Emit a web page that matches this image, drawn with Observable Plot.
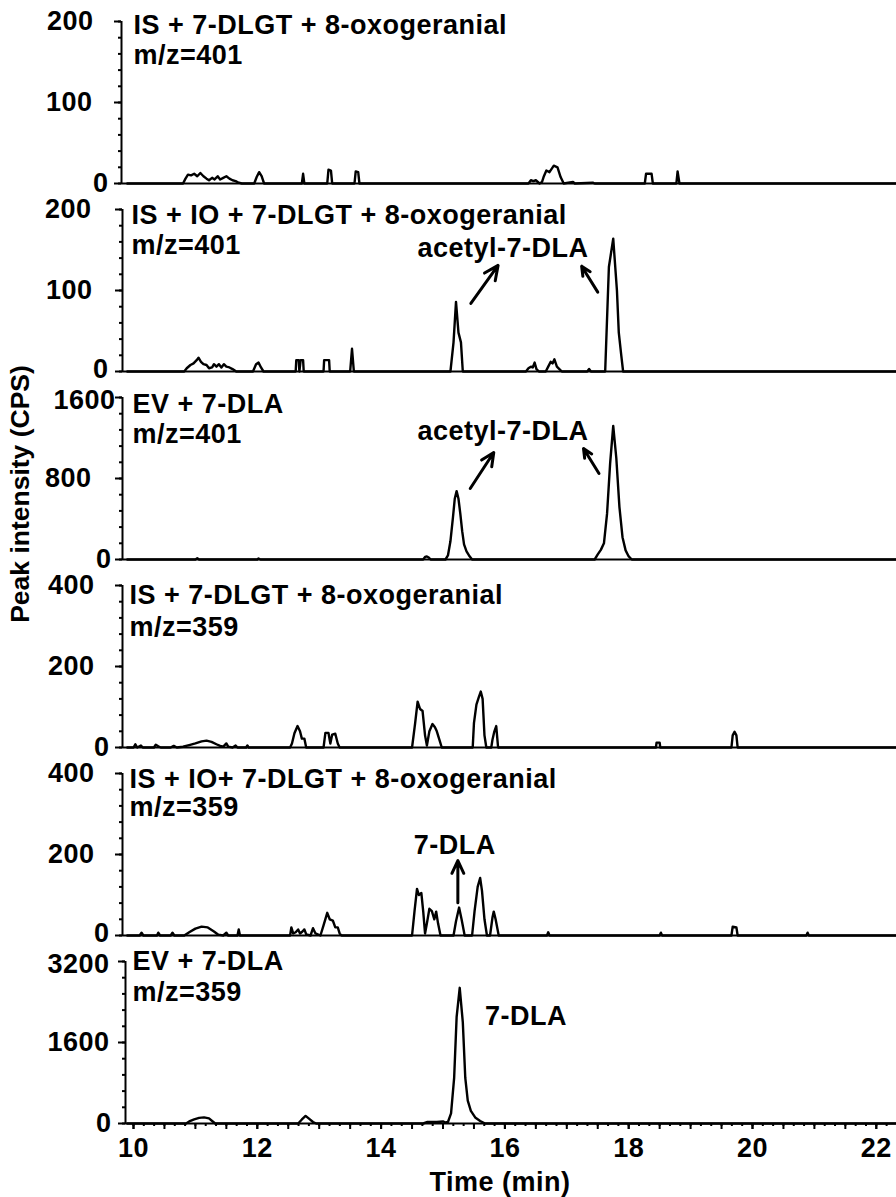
<!DOCTYPE html>
<html>
<head>
<meta charset="utf-8">
<script src="https://cdn.jsdelivr.net/npm/d3@7"></script>
<script src="https://cdn.jsdelivr.net/npm/@observablehq/plot@0.6"></script>
<style>
  body { margin: 0; background: #fff; overflow: hidden; }
  #chart { position: relative; width: 896px; height: 1197px; font-family: "Liberation Sans", Arial, sans-serif; font-weight: bold; color: #000; }
  #chart svg { display: block; }
  #chart svg text { letter-spacing: 0.5px; }
  #ylab { position: absolute; left: 20px; top: 494px; transform: translate(-50%, -50%) rotate(-90deg);
          font-size: 26.5px; white-space: nowrap; line-height: 1; }
</style>
</head>
<body>
<div id="chart"><div id="ylab">Peak intensity (CPS)</div></div>
<script>
// ---- Extracted ion chromatograms: [retention time (min), intensity (CPS)] ----

// m/z 401, IS + 7-DLGT + 8-oxogeranial
const trace401NoIO = [
  [9.9,0],[10.8,0],[10.84,6],[10.88,11],[10.93,10],[10.98,12],[11.03,9],[11.08,13],[11.13,9],[11.18,6],
  [11.22,4],[11.27,7],[11.31,5],[11.36,9],[11.4,5],[11.45,7],[11.5,9],[11.55,6],[11.6,4],[11.65,3],[11.7,1],[11.75,0],
  [11.95,0],[11.99,8],[12.03,14],[12.07,9],[12.11,0],
  [12.72,0],[12.74,12],[12.76,0],
  [13.13,0],[13.15,17],[13.19,16],[13.21,0],
  [13.57,0],[13.59,15],[13.63,14],[13.65,0],
  [16.38,0],[16.42,4],[16.46,3],[16.5,4],[16.56,0],[16.6,2],[16.63,9],[16.67,16],[16.72,14],[16.79,22],[16.85,20],[16.9,8],[16.95,0],
  [17.1,2],[17.13,0],[17.42,1],[17.45,0],
  [18.26,0],[18.28,12],[18.37,12],[18.39,0],
  [18.77,0],[18.79,15],[18.82,0],
  [22.32,0]
];

// m/z 401, IS + IO + 7-DLGT + 8-oxogeranial
const trace401IO = [
  [9.9,0],[10.82,0],[10.86,4],[10.92,8],[10.97,10],[11.02,14],[11.05,17],[11.09,12],[11.13,9],[11.18,8],[11.22,4],
  [11.27,5],[11.3,9],[11.34,6],[11.38,9],[11.42,5],[11.46,9],[11.5,6],[11.55,5],[11.6,3],[11.66,0],
  [11.93,0],[11.98,9],[12.02,11],[12.06,5],[12.1,0],
  [12.62,0],[12.63,14],[12.67,14],[12.68,0],[12.7,14],[12.74,14],[12.75,0],
  [13.07,0],[13.08,14],[13.16,14],[13.17,0],
  [13.5,0],[13.53,28],[13.56,0],
  [15.12,0],[15.17,36],[15.21,86],[15.25,48],[15.29,36],[15.32,0],
  [16.34,0],[16.38,4],[16.42,6],[16.45,5],[16.48,11],[16.51,3],[16.55,0],
  [16.66,0],[16.7,6],[16.74,12],[16.77,10],[16.8,15],[16.84,6],[16.88,3],[16.92,0],
  [17.33,0],[17.36,3],[17.39,0],
  [17.62,0],[17.68,129],[17.75,164],[17.81,100],[17.84,48],[17.88,20],[17.91,0],
  [22.32,0]
];

// m/z 401, EV + 7-DLA (acetyl-7-DLA standard)
const trace401Std = [
  [9.9,0],[11.0,0],[11.03,12],[11.06,0],[12.0,0],[12.02,10],[12.05,0],
  [14.68,0],[14.71,25],[14.74,30],[14.77,20],[14.8,0],
  [15.04,0],[15.08,40],[15.12,180],[15.16,410],[15.19,600],[15.22,675],[15.25,600],[15.28,450],[15.31,280],
  [15.34,150],[15.38,80],[15.42,40],[15.47,0],
  [17.45,0],[17.5,50],[17.55,95],[17.6,160],[17.65,450],[17.7,950],[17.75,1320],[17.8,1000],[17.85,520],
  [17.9,220],[17.95,90],[18.0,30],[18.05,0],
  [22.32,0]
];

// m/z 359, IS + 7-DLGT + 8-oxogeranial
const trace359NoIO = [
  [9.9,0],[10.0,0],[10.03,8],[10.06,0],[10.12,5],[10.15,0],[10.33,0],[10.36,7],[10.4,3],[10.44,0],
  [10.6,0],[10.65,4],[10.7,0],[10.8,2],[10.9,6],[11.0,10],[11.1,15],[11.18,17],[11.26,14],[11.34,8],[11.4,4],
  [11.45,2],[11.5,10],[11.53,2],[11.6,0],[11.65,5],[11.68,0],[11.82,0],[11.84,5],[11.86,0],
  [12.53,0],[12.56,10],[12.6,35],[12.65,53],[12.69,40],[12.72,22],[12.76,22],[12.79,0],
  [13.07,0],[13.1,36],[13.15,36],[13.18,10],[13.21,32],[13.26,34],[13.3,10],[13.33,0],
  [14.5,0],[14.55,60],[14.59,113],[14.63,95],[14.67,90],[14.71,30],[14.74,5],[14.78,40],[14.83,58],
  [14.87,50],[14.9,40],[14.94,20],[14.98,0],
  [15.48,0],[15.5,60],[15.54,106],[15.58,125],[15.61,138],[15.64,120],[15.67,30],[15.7,0],
  [15.78,0],[15.8,20],[15.83,40],[15.86,53],[15.89,0],
  [18.44,0],[18.45,12],[18.5,12],[18.51,0],
  [19.66,0],[19.68,30],[19.71,39],[19.74,30],[19.76,0],
  [22.32,0]
];

// m/z 359, IS + IO + 7-DLGT + 8-oxogeranial
const trace359IO = [
  [9.9,0],[10.1,0],[10.13,7],[10.16,0],[10.38,0],[10.4,7],[10.43,0],[10.6,0],[10.63,7],[10.66,0],
  [10.82,0],[10.9,8],[11.0,17],[11.1,22],[11.2,20],[11.3,10],[11.37,2],[11.45,0],[11.5,7],[11.53,0],
  [11.68,0],[11.7,15],[11.72,0],
  [12.53,0],[12.55,20],[12.58,5],[12.62,8],[12.66,15],[12.69,5],[12.73,10],[12.76,15],[12.79,3],[12.86,0],
  [12.9,18],[12.94,5],[13.02,0],[13.07,25],[13.13,56],[13.17,40],[13.22,37],[13.26,20],[13.3,20],[13.33,5],[13.36,0],
  [14.5,0],[14.54,60],[14.58,115],[14.61,100],[14.65,105],[14.68,60],[14.71,5],[14.74,30],[14.78,66],
  [14.82,60],[14.86,40],[14.89,59],[14.92,30],[14.96,0],
  [15.17,0],[15.21,35],[15.26,69],[15.3,40],[15.35,0],
  [15.47,0],[15.51,60],[15.56,120],[15.6,142],[15.63,110],[15.67,40],[15.71,0],
  [15.76,0],[15.8,45],[15.82,59],[15.85,40],[15.9,0],
  [16.68,0],[16.7,8],[16.72,0],[18.5,0],[18.52,7],[18.54,0],
  [19.66,0],[19.68,22],[19.74,20],[19.76,0],[20.87,0],[20.89,7],[20.91,0],
  [22.32,0]
];

// m/z 359, EV + 7-DLA (7-DLA standard)
const trace359Std = [
  [9.9,0],[10.85,0],[10.9,40],[10.98,80],[11.06,110],[11.14,120],[11.22,100],[11.28,40],[11.32,0],
  [12.66,0],[12.72,80],[12.78,150],[12.84,90],[12.9,30],[12.95,0],
  [14.68,0],[14.75,30],[14.9,30],[15.0,40],[15.04,20],[15.08,30],[15.13,200],[15.18,900],[15.22,2100],
  [15.27,2680],[15.32,2000],[15.36,900],[15.4,450],[15.45,250],[15.52,120],[15.6,50],[15.68,0],
  [22.32,0]
];

// ---- Panel text and axis values ----
const panelTitles = [
  "IS + 7-DLGT + 8-oxogeranial",
  "IS + IO + 7-DLGT + 8-oxogeranial",
  "EV + 7-DLA",
  "IS + 7-DLGT + 8-oxogeranial",
  "IS + IO+ 7-DLGT + 8-oxogeranial",
  "EV + 7-DLA"
];
const panelIons = ["m/z=401", "m/z=401", "m/z=401", "m/z=359", "m/z=359", "m/z=359"];
const panelTraces = [trace401NoIO, trace401IO, trace401Std, trace359NoIO, trace359IO, trace359Std];
const panelYMax = [200, 200, 1600, 400, 400, 3200];
const xTickValues = [10, 12, 14, 16, 18, 20, 22];

// Peak annotations (label position and arrows in time / intensity units)
const peakLabels = [
  [],
  [{t: 15.97, v: 141, text: "acetyl-7-DLA"}],
  [{t: 15.97, v: 1180, text: "acetyl-7-DLA"}],
  [],
  [{t: 15.19, v: 202, text: "7-DLA"}],
  [{t: 16.34, v: 1950, text: "7-DLA"}]
];
const peakArrows = [
  [],
  [{t1: 15.45, v1: 84, t2: 15.89, v2: 131}, {t1: 17.5, v1: 98, t2: 17.24, v2: 130}],
  [{t1: 15.44, v1: 701, t2: 15.82, v2: 1057}, {t1: 17.52, v1: 849, t2: 17.27, v2: 1096}],
  [],
  [{t1: 15.24, v1: 81, t2: 15.24, v2: 185}],
  []
];

// ---- Layout ----
const W = 896, PANEL_H = 188, TOP = 21, X10 = 133, PX_PER_MIN = 61.9, FS = 27, TICK = 7;
const layout = [
  {ml: 121, pad: [6, 22, 21], shift: [0, 0, 0],    titleDx: 12, titleDy: 12, ionDy: 42},
  {ml: 122, pad: [7, 23, 24], shift: [-2.5, 0, 0], titleDx: 9,  titleDy: 14, ionDy: 44},
  {ml: 122, pad: [4, 24, 0],  shift: [0, 0, 2.5],  titleDx: 10, titleDy: 15, ionDy: 45},
  {ml: 122, pad: [6, 21, 21], shift: [0, 0, 0],    titleDx: 7,  titleDy: 18, ionDy: 50},
  {ml: 122, pad: [6, 21, 21], shift: [-2.5, 0, 0], titleDx: 7,  titleDy: 14, ionDy: 42},
  {ml: 125, pad: [7, 9, 9],   shift: [0, 0, 2.5],  titleDx: 7,  titleDy: 8,  ionDy: 39}
];

const font = {fontFamily: "'Liberation Sans', Arial, sans-serif", fontSize: FS + "px", fontWeight: "bold"};
const plain = d => String(d);

function drawPanel(i) {
  const L = layout[i];
  const last = i === panelTitles.length - 1;
  const yMax = panelYMax[i];
  const height = last ? 257 : PANEL_H;
  const marginBottom = height - TOP - 162;
  const xDomain = [10 - (X10 - L.ml) / PX_PER_MIN, 22 + (W - (X10 + 12 * PX_PER_MIN)) / PX_PER_MIN];
  const minorY = d3.range(0, 11).map(k => k * yMax / 10);
  const majorY = [0, yMax / 2, yMax];

  const marks = [
    // minor and major y ticks
    Plot.axisY({ticks: minorY, tickSize: 3, strokeWidth: 2, tickFormat: () => "", label: null}),
    Plot.axisY({ticks: majorY, tickSize: TICK, strokeWidth: 2, tickFormat: () => "", label: null}),
    // y tick labels
    ...majorY.map((v, k) => Plot.axisY({
      ticks: [v], tickSize: 0, tickPadding: TICK + L.pad[k], dy: L.shift[k], tickFormat: plain,
      fontSize: FS, fontWeight: "bold", label: null
    })),
    // axis lines
    Plot.ruleX([xDomain[0]], {y1: 0, y2: yMax, strokeWidth: 2}),
    Plot.ruleY([0], {strokeWidth: 2}),
    // chromatogram
    Plot.line(panelTraces[i], {x: d => d[0], y: d => d[1], stroke: "#000", strokeWidth: 2.4, strokeLinejoin: "round"}),
    // sample title and ion
    Plot.text([panelTitles[i]], {frameAnchor: "top-left", textAnchor: "start", lineAnchor: "bottom",
      dx: L.titleDx, dy: L.titleDy, fontSize: FS, fontWeight: "bold"}),
    Plot.text([panelIons[i]], {frameAnchor: "top-left", textAnchor: "start", lineAnchor: "bottom",
      dx: L.titleDx, dy: L.ionDy, fontSize: FS, fontWeight: "bold"}),
    // peak annotations
    Plot.text(peakLabels[i], {x: "t", y: "v", text: "text", textAnchor: "middle", lineAnchor: "bottom",
      fontSize: FS, fontWeight: "bold"}),
    Plot.arrow(peakArrows[i], {x1: "t1", y1: "v1", x2: "t2", y2: "v2", stroke: "#000",
      strokeWidth: 3, headLength: 9, headAngle: 50})
  ];

  if (last) {
    const minorX = d3.range(60, 135).map(k => k / 6).filter(t => t <= xDomain[1]);
    const halfX = d3.range(20, 45).map(k => k / 2);
    marks.push(
      Plot.axisX({ticks: minorX, tickSize: 3, strokeWidth: 2, tickFormat: () => "", label: null}),
      Plot.axisX({ticks: halfX, tickSize: 6, strokeWidth: 2, tickFormat: () => "", label: null}),
      Plot.axisX({ticks: xTickValues, tickSize: 6, tickPadding: 8, strokeWidth: 2, tickFormat: plain,
        fontSize: FS, fontWeight: "bold", label: null}),
      Plot.text(["Time (min)"], {frameAnchor: "bottom", lineAnchor: "bottom", dx: -11, dy: 67,
        fontSize: FS, fontWeight: "bold"})
    );
  }

  return Plot.plot({
    width: W, height, marginLeft: L.ml, marginRight: 0, marginTop: TOP, marginBottom,
    x: {domain: xDomain, axis: null},
    y: {domain: [0, yMax], axis: null},
    style: {...font, color: "#000", background: "#fff", overflow: "visible"},
    marks
  });
}

const chart = document.getElementById("chart");
panelTitles.forEach((_, i) => chart.appendChild(drawPanel(i)));
</script>
</body>
</html>
